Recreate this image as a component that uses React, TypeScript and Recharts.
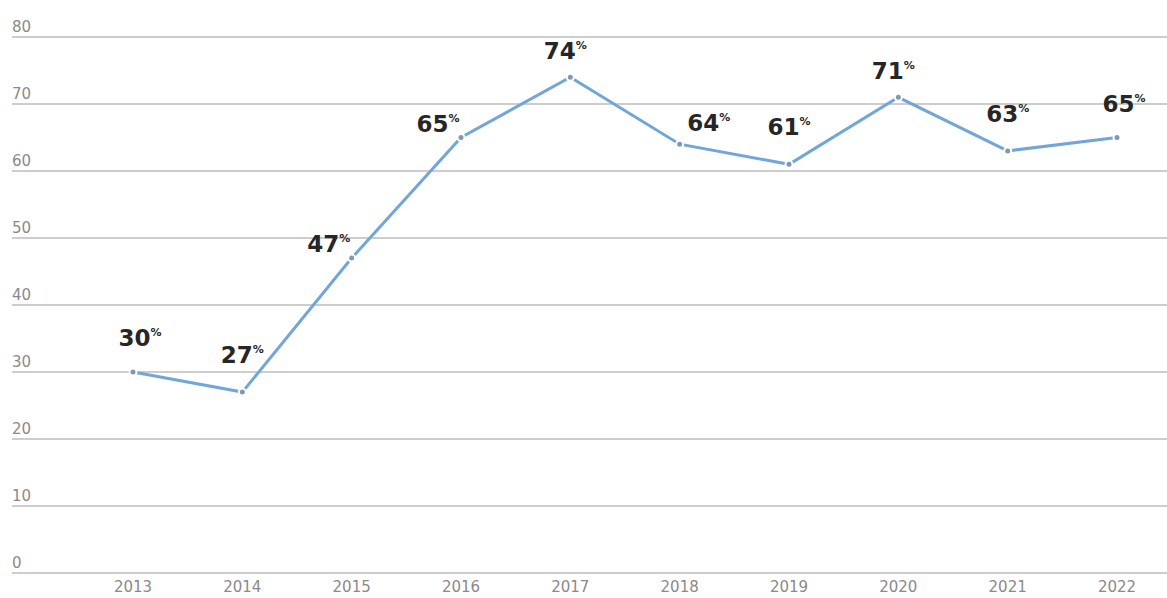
import React from 'react';
import { LineChart, Line, XAxis, YAxis, CartesianGrid, LabelList } from 'recharts';

const years = ['2013', '2014', '2015', '2016', '2017', '2018', '2019', '2020', '2021', '2022'];
const shares = [30, 27, 47, 65, 74, 64, 61, 71, 63, 65];
const yTicks = [0, 10, 20, 30, 40, 50, 60, 70, 80];

const data = years.map((year, i) => ({ year, value: shares[i] }));

const FONT = '"DejaVu Sans", Arial, sans-serif';

const YTick = (props: any) => {
  const { x, y, payload } = props;
  return (
    <text x={x} y={y - 5} textAnchor="start" fill="#8a8a8a" fontSize={15} fontFamily={FONT}>
      {payload.value}
    </text>
  );
};

// place the label beside the line depending on how the line runs through the point
const labelShift = (index: number) => {
  const cur = shares[index];
  const prev = shares[index - 1];
  const next = shares[index + 1];
  if (prev === undefined || next === undefined) return { dx: 7, dy: -26 };
  if (prev < cur && cur < next) return { dx: -23, dy: -6 };
  if (prev > cur && cur > next) return { dx: 29, dy: -13 };
  if (prev < cur && next < cur) return { dx: -5, dy: -18 };
  return { dx: 0, dy: -29 };
};

const ValueLabel = (props: any) => {
  const { x, y, index, value } = props;
  const { dx, dy } = labelShift(index);
  return (
    <text x={x + dx} y={y + dy} textAnchor="middle" fill="#262626" fontFamily={FONT} fontWeight={700}>
      <tspan fontSize={23}>{value}</tspan>
      <tspan fontSize={11} dy={-10}>%</tspan>
    </text>
  );
};

export default function App() {
  return (
    <div style={{ position: 'absolute', left: 0, top: 0, background: '#fff' }}>
      <LineChart width={1167} height={598} data={data} margin={{ top: 37, right: 0, left: 0, bottom: 0 }}>
        <CartesianGrid vertical={false} stroke="#bdbdbd" strokeWidth={1.5} />
        <XAxis
          dataKey="year"
          axisLine={false}
          tickLine={false}
          tickSize={0}
          tickMargin={8}
          height={25}
          padding={{ left: 121, right: 50 }}
          tick={{ fill: '#8a8a8a', fontSize: 15, fontFamily: FONT }}
        />
        <YAxis
          width={12}
          domain={[0, 80]}
          ticks={yTicks}
          axisLine={false}
          tickLine={false}
          tickSize={0}
          tickMargin={0}
          tick={<YTick />}
        />
        <Line
          type="linear"
          dataKey="value"
          stroke="#72a6d8"
          strokeWidth={3}
          dot={{ r: 3.5, fill: '#8298b0', stroke: '#fff', strokeWidth: 2 }}
          isAnimationActive={false}
        >
          <LabelList dataKey="value" content={<ValueLabel />} />
        </Line>
      </LineChart>
    </div>
  );
}
